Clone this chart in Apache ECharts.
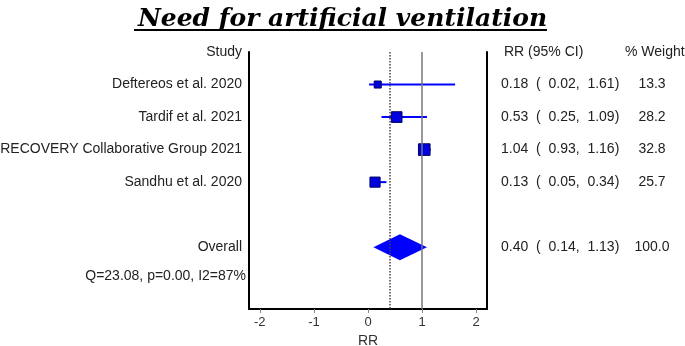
<!DOCTYPE html>
<html lang="en">
<head>
<meta charset="UTF-8">
<title>Need for artificial ventilation</title>
<style>
    * { margin: 0; padding: 0; }
    html, body { width: 100%; height: 100%; background: #fff; }
    #main { width: 685px; height: 346px; }
</style>
<script src="https://cdn.jsdelivr.net/npm/echarts@6/dist/echarts.min.js"></script>
</head>
<body>
<div id="main"></div>
<script>
    // data
    var studies = ['Deftereos et al. 2020', 'Tardif et al. 2021', 'RECOVERY Collaborative Group 2021', 'Sandhu et al. 2020'];
    var rr = [0.18, 0.53, 1.04, 0.13];
    var ciLow = [0.02, 0.25, 0.93, 0.05];
    var ciHigh = [1.61, 1.09, 1.16, 0.34];
    var weights = [13.3, 28.2, 32.8, 25.7];
    var overallRR = 0.40;
    var overallCI = [0.14, 1.13];
    var overallWeight = 100.0;
    var diamond = [0.10, 0.59, 1.09]; // left tip, centre, right tip as drawn
    var xTicks = [-2, -1, 0, 1, 2];
    var heterogeneity = 'Q=23.08, p=0.00, I2=87%';

    var OVERALL_ROW = 6;
    var Q_ROW = 6.9;
    var FONT = 'Liberation Sans, Arial, sans-serif';

    function f2(n) { return n.toFixed(2); }
    function ciText(a, lo, hi) { return f2(a) + '  (  ' + f2(lo) + ',  ' + f2(hi) + ')'; }

    function leftLabel(v) {
        if (v === 0) return 'Study';
        if (v >= 1 && v <= studies.length) return studies[v - 1];
        if (v === OVERALL_ROW) return 'Overall';
        return '';
    }

    function rightLabel(v) {
        if (v === 0) return '{hc|RR (95% CI)}{hw|% Weight}';
        if (v >= 1 && v <= studies.length) {
            var i = v - 1;
            return '{ci|' + ciText(rr[i], ciLow[i], ciHigh[i]) + '}{w|' + weights[i].toFixed(1) + '}';
        }
        if (v === OVERALL_ROW) {
            return '{ci|' + ciText(overallRR, overallCI[0], overallCI[1]) + '}{w|' + overallWeight.toFixed(1) + '}';
        }
        return '';
    }

    var txt = { fontFamily: FONT, fontSize: 14, color: '#222' };

    var option = {
        animation: false,
        backgroundColor: '#fff',
        title: {
            text: 'Need for artificial ventilation',
            left: 'center',
            top: 2,
            textStyle: {
                fontFamily: 'DejaVu Serif',
                fontStyle: 'italic',
                fontWeight: 'bold',
                fontSize: 25,
                color: '#000'
            }
        },
        graphic: [{
            type: 'line',
            shape: { x1: 134, y1: 30, x2: 547, y2: 30 },
            style: { stroke: '#000', lineWidth: 2 }
        }],
        grid: { left: 249, right: 198, top: 52, bottom: 37, outerBoundsMode: 'none', containLabel: false },
        xAxis: {
            type: 'value',
            min: -2.2,
            max: 2.2,
            name: 'RR',
            nameLocation: 'middle',
            nameGap: 22,
            nameTextStyle: { fontFamily: FONT, fontSize: 14, color: '#333' },
            axisLine: { onZero: false, lineStyle: { color: '#000', width: 2 } },
            axisTick: { show: true, customValues: xTicks, length: 4, lineStyle: { color: '#888' } },
            axisLabel: { customValues: xTicks, margin: 7, fontFamily: FONT, fontSize: 13, color: '#333' },
            splitLine: { show: false }
        },
        yAxis: [{
            type: 'value',
            inverse: true,
            min: 0,
            max: 7.9,
            interval: 1,
            axisLine: { show: true, onZero: false, lineStyle: { color: '#000', width: 2 } },
            axisTick: { show: false },
            splitLine: { show: false },
            axisLabel: {
                margin: 7,
                fontFamily: FONT, fontSize: 14, color: '#222',
                showMaxLabel: false,
                formatter: function (v) { return leftLabel(v); }
            }
        }, {
            type: 'value',
            position: 'right',
            inverse: true,
            min: 0,
            max: 7.9,
            interval: 1,
            axisLine: { show: true, onZero: false, lineStyle: { color: '#000', width: 2 } },
            axisTick: { show: false },
            splitLine: { show: false },
            axisLabel: {
                margin: 14,
                showMaxLabel: false,
                formatter: function (v) { return rightLabel(v); },
                rich: {
                    hc: Object.assign({ width: 121, padding: [0, 0, 0, 3] }, txt),
                    hw: Object.assign({}, txt),
                    ci: Object.assign({ width: 122 }, txt),
                    w: Object.assign({ width: 58, align: 'center' }, txt)
                }
            }
        }],
        series: [{
            // confidence intervals
            type: 'custom',
            silent: true,
            data: studies.map(function (s, i) { return [ciLow[i], ciHigh[i], i + 1]; }),
            encode: { x: [0, 1], y: 2 },
            renderItem: function (params, api) {
                var a = api.coord([api.value(0), api.value(2)]);
                var b = api.coord([api.value(1), api.value(2)]);
                return {
                    type: 'line',
                    shape: { x1: a[0], y1: a[1], x2: b[0], y2: b[1] },
                    style: { stroke: '#0000ff', lineWidth: 2 }
                };
            },
            z: 2
        }, {
            // point estimates, box size by weight
            type: 'scatter',
            silent: true,
            symbol: 'rect',
            data: studies.map(function (s, i) { return [rr[i], i + 1]; }),
            symbolSize: function (val, params) {
                return 2.2 * Math.sqrt(weights[params.dataIndex]) - 1;
            },
            itemStyle: { color: '#0000e0', borderColor: '#000060', borderWidth: 1, opacity: 1 },
            markLine: {
                silent: true,
                symbol: 'none',
                label: { show: false },
                data: [
                    { xAxis: 1, lineStyle: { color: '#777', width: 1.5, type: 'solid' } },
                    { xAxis: overallRR, lineStyle: { color: '#444', width: 1.5, type: 'dotted' } }
                ]
            },
            z: 3
        }, {
            // pooled diamond
            type: 'custom',
            silent: true,
            data: [[diamond[0], diamond[1], diamond[2], OVERALL_ROW]],
            encode: { x: [0, 2], y: 3 },
            renderItem: function (params, api) {
                var l = api.coord([api.value(0), api.value(3)]);
                var m = api.coord([api.value(1), api.value(3)]);
                var r = api.coord([api.value(2), api.value(3)]);
                var h = 13;
                return {
                    type: 'polygon',
                    shape: { points: [[l[0], l[1]], [m[0], m[1] - h], [r[0], r[1]], [m[0], m[1] + h]] },
                    style: { fill: '#0000ff' }
                };
            },
            z: 3
        }, {
            // heterogeneity note
            type: 'scatter',
            silent: true,
            clip: false,
            symbolSize: 0,
            itemStyle: { opacity: 1 },
            data: [[-2.2, Q_ROW]],
            label: {
                show: true,
                position: 'left',
                distance: 3,
                formatter: heterogeneity,
                fontFamily: FONT, fontSize: 14, color: '#222'
            }
        }]
    };

    var myChart = echarts.init(document.getElementById('main'));
    myChart.setOption(option);
</script>
</body>
</html>
